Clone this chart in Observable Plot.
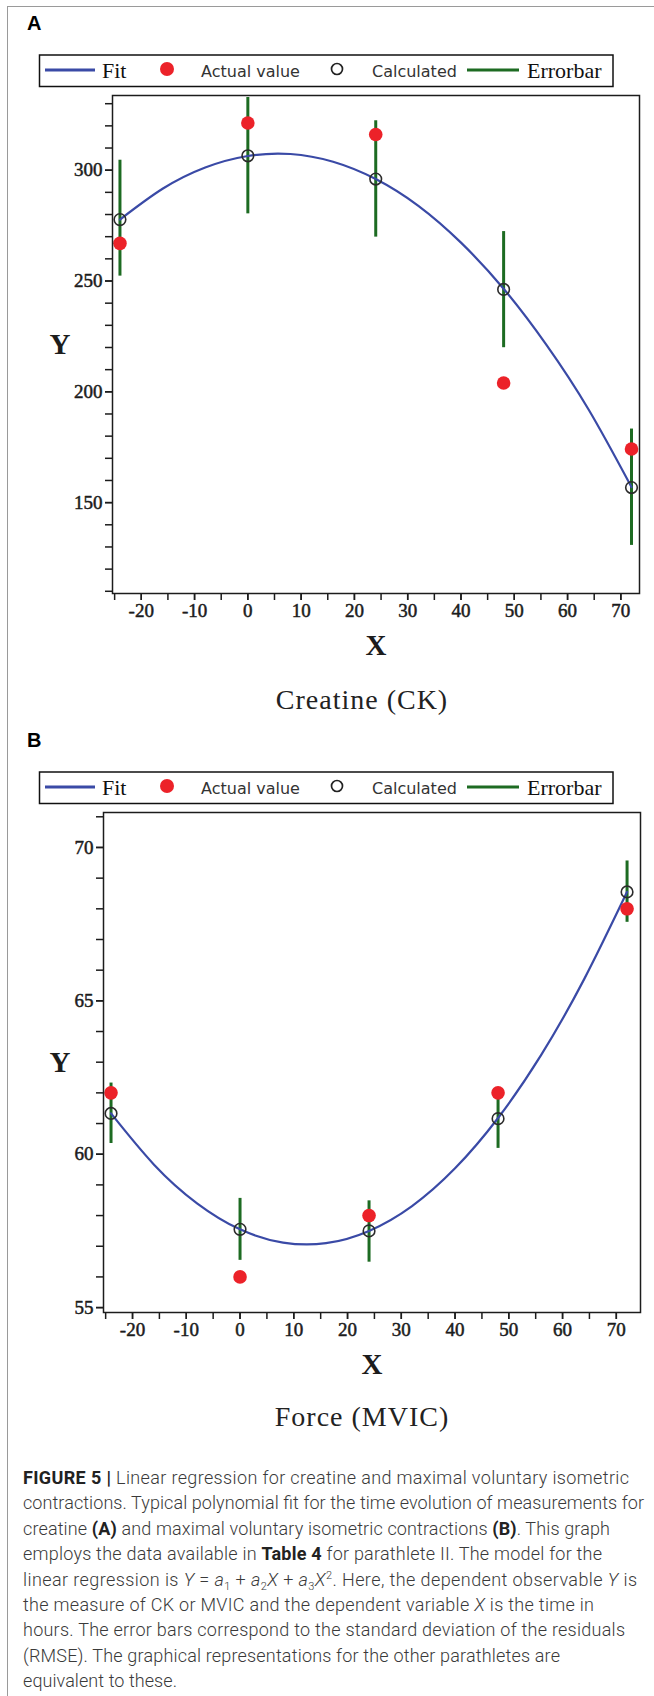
<!DOCTYPE html>
<html>
<head>
<meta charset="utf-8">
<script src="https://cdn.jsdelivr.net/npm/d3@7"></script>
<script src="https://cdn.jsdelivr.net/npm/@observablehq/plot@0.6"></script>
<style>
html, body { margin: 0; padding: 0; background: #fff; }
#page { position: relative; width: 654px; height: 1696px; overflow: hidden; background: #fff; }
.border { position: absolute; left: 7px; top: 6px; width: 800px; height: 1800px; border-left: 1.5px solid #9a9a9a; border-top: 1.5px solid #9a9a9a; }
.panel { position: absolute; left: 0; width: 654px; height: 717px; }
.plabel { position: absolute; left: 27px; top: 12px; font: bold 20px "Liberation Sans", Arial, sans-serif; color: #000; }
.legend { position: absolute; left: 0; top: 0; }
.chart { position: absolute; left: 0; top: 0; }
.sub { position: absolute; left: 0; top: 684px; width: 724px; text-align: center; font: 28px "Liberation Serif", "Times New Roman", serif; letter-spacing: 1px; line-height: 32px; color: #222; }
.caption { position: absolute; left: 0; top: 1460px; }
.caption text { font-family: Roboto, "Liberation Sans", sans-serif; font-weight: 300; font-size: 18px; fill: #3a3a3a; }
.caption .b { font-weight: bold; fill: #222; }
.caption .i { font-style: italic; }
</style>
</head>
<body>
<div id="page">
  <div class="border"></div>
  <div class="panel" id="panelA" style="top:0px">
    <div class="plabel">A</div>
  </div>
  <div class="panel" id="panelB" style="top:717px">
    <div class="plabel">B</div>
  </div>
  <svg class="caption" width="654" height="236">
    <text x="23" y="24" textLength="606" lengthAdjust="spacing"><tspan class="b">FIGURE 5 |</tspan> Linear regression for creatine and maximal voluntary isometric</text>
    <text x="23" y="49.4" textLength="621" lengthAdjust="spacing">contractions. Typical polynomial fit for the time evolution of measurements for</text>
    <text x="23" y="74.8" textLength="587" lengthAdjust="spacing">creatine <tspan class="b">(A)</tspan> and maximal voluntary isometric contractions <tspan class="b">(B)</tspan>. This graph</text>
    <text x="23" y="100.2" textLength="579" lengthAdjust="spacing">employs the data available in <tspan class="b">Table 4</tspan> for parathlete II. The model for the</text>
    <text x="23" y="125.6" textLength="614" lengthAdjust="spacing">linear regression is <tspan class="i">Y</tspan> = <tspan class="i">a</tspan><tspan font-size="11" dy="4">1</tspan><tspan dy="-4"> + </tspan><tspan class="i">a</tspan><tspan font-size="11" dy="4">2</tspan><tspan class="i" dy="-4">X</tspan> + <tspan class="i">a</tspan><tspan font-size="11" dy="4">3</tspan><tspan class="i" dy="-4">X</tspan><tspan font-size="11" dy="-7">2</tspan><tspan dy="7">. Here, the dependent observable </tspan><tspan class="i">Y</tspan> is</text>
    <text x="23" y="151" textLength="571" lengthAdjust="spacing">the measure of CK or MVIC and the dependent variable <tspan class="i">X</tspan> is the time in</text>
    <text x="23" y="176.4" textLength="602" lengthAdjust="spacing">hours. The error bars correspond to the standard deviation of the residuals</text>
    <text x="23" y="201.8" textLength="537" lengthAdjust="spacing">(RMSE). The graphical representations for the other parathletes are</text>
    <text x="23" y="227.2" textLength="154" lengthAdjust="spacing">equivalent to these.</text>
  </svg>
</div>
<script>
// ---------- data ----------
const hours = [-24, 0, 24, 48, 72];
const fitHours = [-24, -16, -8, 0, 8, 16, 24, 32, 40, 48, 56, 64, 72];

// Panel A: Creatine (CK)
const ckActual = [267.0, 321.3, 316.1, 204.0, 174.2];
const ckCalculated = [277.7, 306.5, 296.0, 246.2, 156.8];
const ckErrLow = [252.2, 280.3, 269.8, 219.9, 130.7];
const ckErrHigh = [304.5, 332.8, 322.3, 272.3, 183.2];
const ckFit = [277.7, 291.6, 301.2, 306.4, 307.3, 303.8, 296.0, 283.9, 267.3, 246.5, 221.3, 191.8, 157.0];
const ckYTicks = [150, 200, 250, 300];
const ckYMinor = [110, 120, 130, 140, 150, 160, 170, 180, 190, 200, 210, 220, 230, 240, 250, 260, 270, 280, 290, 300, 310, 320, 330];

// Panel B: Force (MVIC)
const mvicActual = [62.0, 56.0, 58.0, 62.0, 68.0];
const mvicCalculated = [61.33, 57.55, 57.50, 61.16, 68.55];
const mvicErrLow = [60.35, 56.54, 56.48, 60.19, 67.56];
const mvicErrHigh = [62.32, 58.56, 58.48, 62.16, 69.56];
const mvicFit = [61.33, 59.66, 58.40, 57.55, 57.12, 57.10, 57.50, 58.31, 59.54, 61.18, 63.23, 65.70, 68.55];
const mvicYTicks = [55, 60, 65, 70];
const mvicYMinor = [55, 56, 57, 58, 59, 60, 61, 62, 63, 64, 65, 66, 67, 68, 69, 70, 71];

const xTicks = [-20, -10, 0, 10, 20, 30, 40, 50, 60, 70];
const xMinor = [-25, -20, -15, -10, -5, 0, 5, 10, 15, 20, 25, 30, 35, 40, 45, 50, 55, 60, 65, 70];

const legendLabels = ["Fit", "Actual value", "Calculated", "Errorbar"];
const subtitles = ["Creatine (CK)", "Force (MVIC)"];

// ---------- colours ----------
const FIT = "#3a4aa6", RED = "#ec2229", GREEN = "#1d6b22", INK = "#1c1c1c";

function legendSVG() {
  const ns = "http://www.w3.org/2000/svg";
  const svg = document.createElementNS(ns, "svg");
  svg.setAttribute("width", 654); svg.setAttribute("height", 100);
  svg.setAttribute("class", "legend");
  const cy = 70;
  svg.innerHTML = `
    <rect x="39.5" y="55" width="573.5" height="31.5" fill="white" stroke="#111" stroke-width="1.5"/>
    <line x1="45" x2="95" y1="${cy}" y2="${cy}" stroke="${FIT}" stroke-width="3"/>
    <text x="102" y="78" font-family="Liberation Serif, Times New Roman, serif" font-size="22" fill="#111">${legendLabels[0]}</text>
    <circle cx="167" cy="${cy - 1}" r="7" fill="${RED}"/>
    <text x="201" y="77" font-family="DejaVu Sans, sans-serif" font-size="16" fill="#333">${legendLabels[1]}</text>
    <circle cx="337" cy="${cy - 1}" r="5.5" fill="none" stroke="#222" stroke-width="1.7"/>
    <text x="372" y="77" font-family="DejaVu Sans, sans-serif" font-size="16" fill="#333">${legendLabels[2]}</text>
    <line x1="467" x2="519" y1="${cy}" y2="${cy}" stroke="${GREEN}" stroke-width="3"/>
    <text x="527" y="78" font-family="Liberation Serif, Times New Roman, serif" font-size="22" fill="#111">${legendLabels[3]}</text>`;
  return svg;
}

function panel(cfg) {
  const rows = hours.map((h, i) => ({hour: h, actual: cfg.actual[i], calc: cfg.calc[i], low: cfg.low[i], high: cfg.high[i]}));
  const fitRows = fitHours.map((h, i) => ({hour: h, value: cfg.fit[i]}));
  const labelStyle = {textStroke: INK, textStrokeWidth: 0.5};
  const chart = Plot.plot({
    width: 654,
    height: cfg.height,
    marginTop: 95,
    marginBottom: cfg.height - cfg.frameBottom,
    marginLeft: cfg.marginLeft,
    marginRight: cfg.marginRight,
    x: {domain: cfg.xDomain},
    y: {domain: cfg.yDomain},
    style: {background: "transparent", overflow: "visible", fontFamily: "'Liberation Serif','Times New Roman',serif", fontSize: "19px", color: INK},
    marks: [
      Plot.axisX({ticks: xMinor, tickFormat: () => "", tickSize: 7, strokeWidth: 1.5, label: null}),
      Plot.axisX({ticks: xTicks, tickFormat: d => String(d), tickSize: 7, tickPadding: 3, strokeWidth: 1.5, label: null, ...labelStyle}),
      Plot.axisY({ticks: cfg.yMinor, tickFormat: () => "", tickSize: 7, strokeWidth: 1.5, label: null}),
      Plot.axisY({ticks: cfg.yTicks, tickFormat: d => String(d), tickSize: 7, tickPadding: 3, strokeWidth: 1.5, label: null, ...labelStyle}),
      Plot.ruleX(rows, {x: "hour", y1: "low", y2: "high", stroke: GREEN, strokeWidth: 3}),
      Plot.line(fitRows, {x: "hour", y: "value", curve: "natural", stroke: FIT, strokeWidth: 2.2}),
      Plot.dot(rows, {x: "hour", y: "actual", r: 6.8, fill: RED}),
      Plot.dot(rows, {x: "hour", y: "calc", r: 5.8, stroke: "#2b2b2b", strokeWidth: 1.6, fill: "none"}),
      Plot.frame({stroke: INK, strokeWidth: 1.5}),
      Plot.text(["X"], {frameAnchor: "bottom", dy: 52, fontSize: 29, fontWeight: "bold", lineAnchor: "middle"}),
      Plot.text(["Y"], {frameAnchor: "left", dx: cfg.yLabelDx, fontSize: 29, fontWeight: "bold", lineAnchor: "middle"})
    ]
  });
  chart.classList.add("chart");
  const holder = document.getElementById(cfg.id);
  holder.appendChild(chart);
  holder.appendChild(legendSVG());
  const sub = document.createElement("div");
  sub.className = "sub";
  sub.textContent = cfg.subtitle;
  holder.appendChild(sub);
}

panel({
  id: "panelA", subtitle: subtitles[0],
  actual: ckActual, calc: ckCalculated, low: ckErrLow, high: ckErrHigh, fit: ckFit,
  yTicks: ckYTicks, yMinor: ckYMinor,
  xDomain: [-25.4, 73.5], yDomain: [109, 333.7],
  height: 663, frameBottom: 593, marginLeft: 112, marginRight: 15, yLabelDx: -63
});
panel({
  id: "panelB", subtitle: subtitles[1],
  actual: mvicActual, calc: mvicCalculated, low: mvicErrLow, high: mvicErrHigh, fit: mvicFit,
  yTicks: mvicYTicks, yMinor: mvicYMinor,
  xDomain: [-25.4, 74.5], yDomain: [54.84, 71.14],
  height: 665, frameBottom: 595, marginLeft: 103, marginRight: 14, yLabelDx: -54
});
</script>
</body>
</html>
